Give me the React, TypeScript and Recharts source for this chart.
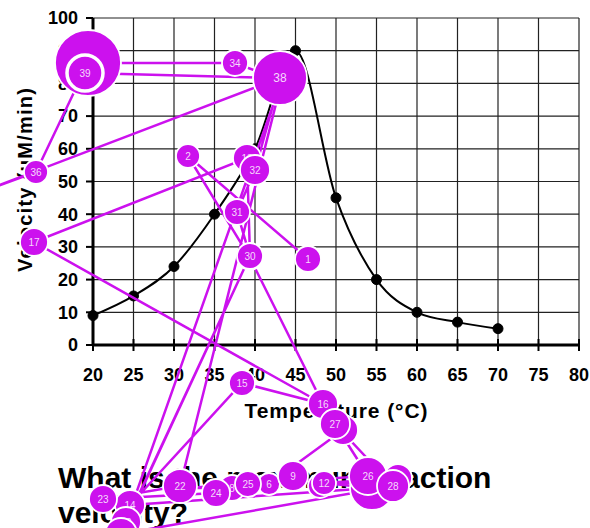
import React from 'react';
import { LineChart, Line, XAxis, YAxis, CartesianGrid, ScatterChart, Scatter } from 'recharts';

// ---- chart data ----
const temperatures = [20, 25, 30, 35, 40, 45, 50, 55, 60, 65, 70];
const velocities = [9, 15, 24, 40, 60, 90, 45, 20, 10, 7, 5];
const xTicks = [20, 25, 30, 35, 40, 45, 50, 55, 60, 65, 70, 75, 80];
const yTicks = [0, 10, 20, 30, 40, 50, 60, 70, 80, 90, 100];
const xTitle = 'Temperature (°C)';
const yTitle = 'Velocity (µM/min)';
const questionLines = ['What is the maximum reaction', 'velocity?'];

// ---- gaze fixations (screen pixels), in visiting order; radius ~ duration ----
const fixX = [308, 188, 250, 323, 343, 269, 180, 232, 293, 320, 398, 324, 372, 130, 242, 323, 34, 247, 250, 126, 282, 180, 103, 216, 248, 368, 335, 393, 121, 250, 237, 255, 280, 235, 88, 36, -40, 280, 85];
const fixY = [259, 156, 258, 404, 430, 484, 488, 488, 476, 486, 478, 483, 488, 505, 383, 404, 242, 158, 256, 522, 80, 486, 499, 493, 484, 476, 424, 486, 534, 256, 212, 170, 80, 63, 63, 172, 200, 78, 73];
const fixR = [13, 12, 12, 14, 15, 11, 14, 13, 15, 12, 14, 12, 22, 15, 13, 15, 14, 14, 12, 15, 20, 17, 14, 14, 13, 19, 15, 16, 16, 13, 13, 15, 20, 13, 33, 12, 12, 27, 18];

const W = 590;
const H = 528;
const FONT = '"Liberation Sans", Arial, sans-serif';
const MAGENTA = '#cc11ee';

const lineData = temperatures.map((t, i) => ({ t, v: velocities[i] }));
const fixations = fixX.map((x, i) => ({ x, y: fixY[i], r: fixR[i], n: i + 1 }));

const XTick = (props: any) => {
  const { x, y, payload } = props;
  const axisY = y - 8; // tickSize 6 + tickMargin 2
  return (
    <g>
      <line x1={x} x2={x} y1={axisY - 6} y2={axisY + 6} stroke="#000" strokeWidth={2} />
      <text x={x} y={axisY + 36} textAnchor="middle" fontFamily={FONT} fontWeight="bold" fontSize={18} fill="#000">
        {payload.value}
      </text>
    </g>
  );
};

const FixationShape = (props: any) => {
  const { cx, cy, payload } = props;
  if (cx == null || cy == null) return <g />;
  const last = payload.n === fixations.length;
  const onScreen = cx >= 0 && cx <= W && cy >= 0 && cy <= H - 4;
  return (
    <g>
      <circle cx={cx} cy={cy} r={payload.r} fill={MAGENTA} stroke="#fff" strokeWidth={last ? 3.5 : 1.8} />
      {onScreen && (
        <text
          x={cx}
          y={cy}
          dy="0.35em"
          textAnchor="middle"
          fontFamily={FONT}
          fontSize={payload.r > 20 ? 12 : 10}
          fill="#fff"
          fillOpacity={0.85}
        >
          {payload.n}
        </text>
      )}
    </g>
  );
};

export default function App() {
  return (
    <div style={{ position: 'absolute', left: 0, top: 0, width: W, height: H, background: '#fff', overflow: 'hidden' }}>
      <div style={{ position: 'absolute', left: 0, top: 0 }}>
        <LineChart width={W} height={H} data={lineData} margin={{ top: 18, right: 11, left: 0, bottom: 153 }}>
          <CartesianGrid stroke="#222" strokeWidth={1.2} />
          <XAxis
            dataKey="t"
            type="number"
            domain={[20, 80]}
            ticks={xTicks}
            interval={0}
            height={30}
            axisLine={{ stroke: '#000', strokeWidth: 3 }}
            tickLine={false}
            tickSize={6}
            tickMargin={2}
            tick={<XTick />}
          />
          <YAxis
            type="number"
            domain={[0, 100]}
            ticks={yTicks}
            interval={0}
            width={93}
            axisLine={{ stroke: '#000', strokeWidth: 3 }}
            tickLine={{ stroke: '#000', strokeWidth: 2 }}
            tickSize={7}
            tickMargin={8}
            tick={{ fill: '#000', fontSize: 18, fontWeight: 'bold', fontFamily: FONT }}
          />
          <Line
            dataKey="v"
            type="monotone"
            stroke="#000"
            strokeWidth={2}
            dot={{ r: 5, fill: '#000', stroke: '#000', strokeWidth: 1 }}
            isAnimationActive={false}
          />
        </LineChart>
      </div>
      <svg width={W} height={H} style={{ position: 'absolute', left: 0, top: 0 }}>
        <text x={336} y={418} textAnchor="middle" fontFamily={FONT} fontWeight="bold" fontSize={21} fill="#000" textLength={183} lengthAdjust="spacing">
          {xTitle}
        </text>
        <text
          transform="translate(32,180) rotate(-90)"
          x={0}
          y={0}
          textAnchor="middle"
          fontFamily={FONT}
          fontWeight="bold"
          fontSize={20}
          fill="#000"
          textLength={184}
          lengthAdjust="spacing"
        >
          {yTitle}
        </text>
        {questionLines.map((q, i) => (
          <text key={i} x={58} y={488 + i * 35} fontFamily={FONT} fontWeight="bold" fontSize={30} fill="#000">
            {q}
          </text>
        ))}
      </svg>
      <div style={{ position: 'absolute', left: 0, top: 0 }}>
        <ScatterChart width={W} height={H} margin={{ top: 0, right: 0, left: 0, bottom: 0 }}>
          <XAxis dataKey="x" type="number" domain={[0, W]} hide allowDataOverflow />
          <YAxis dataKey="y" type="number" domain={[0, H]} reversed hide allowDataOverflow />
          <Scatter
            data={fixations}
            line={{ stroke: MAGENTA, strokeWidth: 2.5 }}
            lineType="joint"
            shape={<FixationShape />}
            isAnimationActive={false}
          />
        </ScatterChart>
      </div>
    </div>
  );
}
